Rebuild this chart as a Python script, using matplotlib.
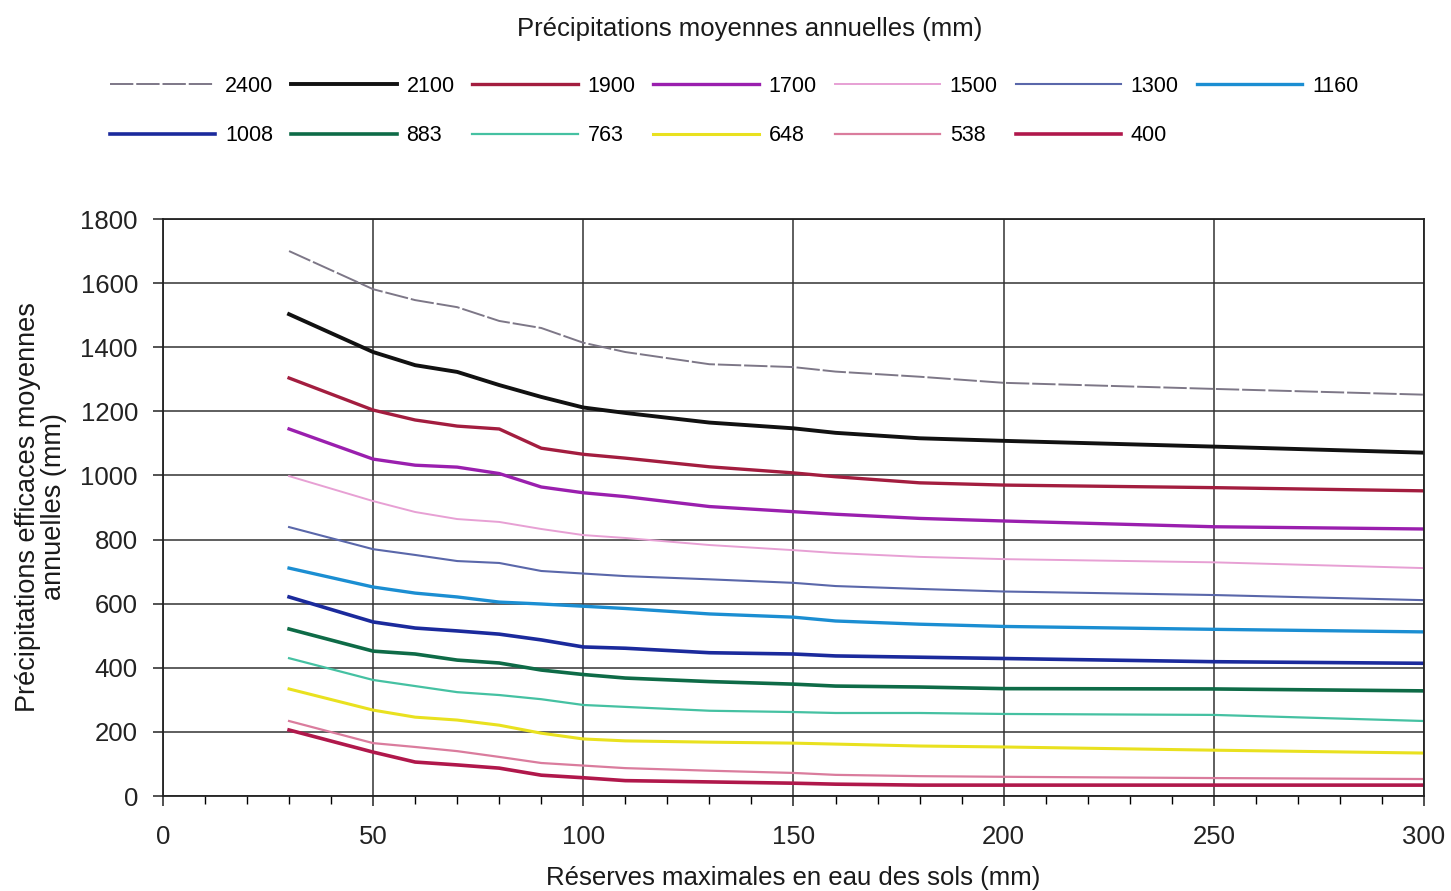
import matplotlib
matplotlib.use("Agg")
import matplotlib.pyplot as plt
from matplotlib.ticker import MultipleLocator

plt.rcParams["font.family"] = ["Liberation Sans", "DejaVu Sans"]

# soil water reserve (mm)
reserve = [30, 50, 60, 70, 80, 90, 100, 110, 130, 150, 160, 180, 200, 250, 300]

# effective precipitation (mm) for each mean annual precipitation class
p2400 = [1700, 1581, 1547, 1525, 1482, 1460, 1414, 1385, 1347, 1338, 1324, 1308, 1289, 1270, 1252]
p2100 = [1503, 1385, 1344, 1323, 1282, 1245, 1212, 1195, 1165, 1147, 1133, 1116, 1108, 1090, 1071]
p1900 = [1304, 1204, 1173, 1154, 1145, 1085, 1066, 1054, 1027, 1008, 996, 977, 970, 962, 952]
p1700 = [1145, 1051, 1032, 1026, 1006, 964, 946, 934, 903, 887, 879, 866, 858, 840, 833]
p1500 = [998, 920, 886, 864, 855, 833, 814, 805, 783, 767, 758, 746, 739, 729, 711]
p1300 = [839, 770, 752, 733, 727, 702, 694, 686, 676, 665, 655, 646, 638, 627, 611]
p1160 = [711, 652, 633, 621, 605, 599, 592, 585, 568, 558, 546, 536, 529, 520, 512]
p1008 = [621, 543, 524, 515, 505, 487, 465, 461, 447, 443, 437, 433, 429, 419, 414]
p883 = [521, 452, 443, 424, 415, 393, 379, 368, 357, 349, 343, 340, 335, 334, 328]
p763 = [430, 362, 343, 324, 315, 302, 284, 278, 266, 262, 259, 259, 256, 253, 234]
p648 = [334, 268, 246, 237, 221, 196, 178, 172, 168, 165, 162, 156, 153, 143, 134]
p538 = [234, 165, 153, 140, 122, 103, 95, 87, 79, 72, 66, 62, 60, 56, 53]
p400 = [206, 137, 106, 97, 87, 65, 57, 48, 44, 40, 37, 34, 34, 34, 34]

labels = ["2400", "2100", "1900", "1700", "1500", "1300", "1160",
          "1008", "883", "763", "648", "538", "400"]
series = [p2400, p2100, p1900, p1700, p1500, p1300, p1160,
          p1008, p883, p763, p648, p538, p400]

colors = ["#7d7787", "#111111", "#a31d3f", "#9a1fae", "#e7a0d4", "#5a67aa", "#1b8ed2",
          "#1b2a9c", "#0e6b47", "#45c1a2", "#e9e11f", "#da7c9d", "#b0184b"]
widths = [1.4, 2.8, 2.4, 2.4, 1.4, 1.5, 2.4, 2.6, 2.6, 1.6, 2.2, 1.6, 2.6]
styles = [(0, (12, 1.5)), "-", "-", "-", "-", "-", "-", "-", "-", "-", "-", "-", "-"]

fig = plt.figure(figsize=(14.51, 8.91), dpi=100)
ax = fig.add_axes([0.1123, 0.1066, 0.8691, 0.6476])

lines = []
for lab, vals, c, w, s in zip(labels, series, colors, widths, styles):
    ln, = ax.plot(reserve, vals, color=c, linewidth=w, linestyle=s, label=lab)
    lines.append(ln)

ax.set_xlim(0, 300)
ax.set_ylim(0, 1800)
ax.xaxis.set_major_locator(MultipleLocator(50))
ax.xaxis.set_minor_locator(MultipleLocator(10))
ax.yaxis.set_major_locator(MultipleLocator(200))
ax.grid(True, which="major", color="#333333", linewidth=1.1)
ax.set_axisbelow(True)
for sp in ax.spines.values():
    sp.set_linewidth(1.3)
    sp.set_color("#222222")
ax.tick_params(axis="both", which="major", direction="out", length=7, width=1.1,
               labelsize=18.5, colors="#222222")
ax.tick_params(axis="x", which="major", pad=14)
ax.tick_params(axis="y", which="major", pad=11)
ax.tick_params(axis="x", which="minor", direction="out", length=6, width=1.0)

fig.text(0.517, 0.968, "Précipitations moyennes annuelles (mm)",
         ha="center", va="center", fontsize=18.5, color="#1a1a1a")
fig.text(0.5465, 0.015, "Réserves maximales en eau des sols (mm)",
         ha="center", va="center", fontsize=18.5, color="#1a1a1a")
fig.text(0.0285, 0.431, "Précipitations efficaces moyennes\nannuelles (mm)",
         ha="center", va="center", rotation=90, fontsize=19.5,
         multialignment="center", linespacing=1.0, color="#1a1a1a")

# legend, row-major order over 7 columns
order = [0, 7, 1, 8, 2, 9, 3, 10, 4, 11, 5, 12, 6]
fig.legend([lines[i] for i in order], [labels[i] for i in order],
           loc="upper left", bbox_to_anchor=(0.0758, 0.915), ncol=7,
           frameon=False, fontsize=15.5, handlelength=4.9, handletextpad=0.45,
           columnspacing=0.83, labelspacing=1.32, borderpad=0, borderaxespad=0)

fig.savefig("out.png", dpi=100)
